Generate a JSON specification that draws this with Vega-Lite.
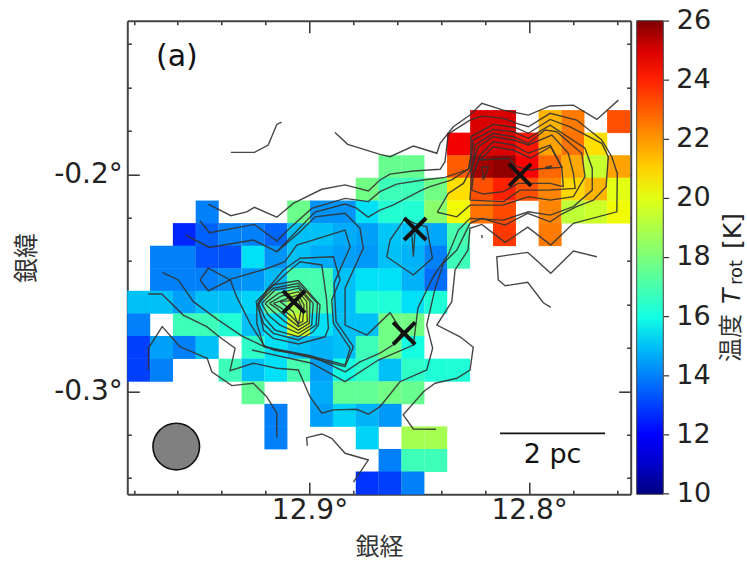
{"$schema":"https://vega.github.io/schema/vega-lite/v6.json","width":503.4,"height":473.6,"autosize":{"type":"none"},"padding":{"left":127.3,"top":20.7,"right":116,"bottom":68},"background":"white",
"config":{"view":{"stroke":null},"font":"DejaVu Sans"},
"datasets":{
"cells":[
{"lon":12.8216,"lat":-0.1757,"T":25},{"lon":12.8112,"lat":-0.1757,"T":25},{"lon":12.7904,"lat":-0.1757,"T":21.5},{"lon":12.78,"lat":-0.1757,"T":22.5},{"lon":12.7592,"lat":-0.1757,"T":23.2},
{"lon":12.8321,"lat":-0.1861,"T":24.7},{"lon":12.8216,"lat":-0.1861,"T":25},{"lon":12.8112,"lat":-0.1861,"T":25},{"lon":12.8008,"lat":-0.1861,"T":24.2},{"lon":12.7904,"lat":-0.1861,"T":21.8},{"lon":12.78,"lat":-0.1861,"T":22.6},{"lon":12.7696,"lat":-0.1861,"T":20.8},
{"lon":12.8633,"lat":-0.1965,"T":17.6},{"lon":12.8529,"lat":-0.1965,"T":17.6},{"lon":12.8321,"lat":-0.1965,"T":23},{"lon":12.8216,"lat":-0.1965,"T":25.6},{"lon":12.8112,"lat":-0.1965,"T":25.8},{"lon":12.8008,"lat":-0.1965,"T":24.6},{"lon":12.7904,"lat":-0.1965,"T":22.8},{"lon":12.78,"lat":-0.1965,"T":21.7},{"lon":12.7696,"lat":-0.1965,"T":19.5},{"lon":12.7592,"lat":-0.1965,"T":21.8},
{"lon":12.8737,"lat":-0.2069,"T":17.8},{"lon":12.8633,"lat":-0.2069,"T":16.8},{"lon":12.8529,"lat":-0.2069,"T":16.8},{"lon":12.8425,"lat":-0.2069,"T":17.8},{"lon":12.8321,"lat":-0.2069,"T":20.8},{"lon":12.8216,"lat":-0.2069,"T":23.2},{"lon":12.8112,"lat":-0.2069,"T":24},{"lon":12.8008,"lat":-0.2069,"T":23.2},{"lon":12.7904,"lat":-0.2069,"T":22.3},{"lon":12.78,"lat":-0.2069,"T":20.9},{"lon":12.7696,"lat":-0.2069,"T":21.5},{"lon":12.7592,"lat":-0.2069,"T":20},
{"lon":12.9466,"lat":-0.2174,"T":14},{"lon":12.9049,"lat":-0.2174,"T":17.7},{"lon":12.8945,"lat":-0.2174,"T":14.3},{"lon":12.8841,"lat":-0.2174,"T":14.3},{"lon":12.8737,"lat":-0.2174,"T":15.5},{"lon":12.8633,"lat":-0.2174,"T":16.3},{"lon":12.8529,"lat":-0.2174,"T":16.3},{"lon":12.8425,"lat":-0.2174,"T":18.3},{"lon":12.8321,"lat":-0.2174,"T":20.3},{"lon":12.8216,"lat":-0.2174,"T":22.6},{"lon":12.8112,"lat":-0.2174,"T":23.3},{"lon":12.7904,"lat":-0.2174,"T":22.3},{"lon":12.78,"lat":-0.2174,"T":19.3},{"lon":12.7696,"lat":-0.2174,"T":19.6},{"lon":12.7592,"lat":-0.2174,"T":20.3},
{"lon":12.957,"lat":-0.2278,"T":12.6},{"lon":12.9466,"lat":-0.2278,"T":13.5},{"lon":12.9362,"lat":-0.2278,"T":14},{"lon":12.9257,"lat":-0.2278,"T":14},{"lon":12.9153,"lat":-0.2278,"T":13.6},{"lon":12.9049,"lat":-0.2278,"T":15},{"lon":12.8945,"lat":-0.2278,"T":15},{"lon":12.8841,"lat":-0.2278,"T":14.7},{"lon":12.8737,"lat":-0.2278,"T":14.5},{"lon":12.8633,"lat":-0.2278,"T":15.1},{"lon":12.8529,"lat":-0.2278,"T":15},{"lon":12.8425,"lat":-0.2278,"T":14.6},{"lon":12.8321,"lat":-0.2278,"T":17},{"lon":12.8112,"lat":-0.2278,"T":23.6},{"lon":12.7904,"lat":-0.2278,"T":22.5},
{"lon":12.9674,"lat":-0.2382,"T":14},{"lon":12.957,"lat":-0.2382,"T":14},{"lon":12.9466,"lat":-0.2382,"T":13.3},{"lon":12.9362,"lat":-0.2382,"T":13.2},{"lon":12.9257,"lat":-0.2382,"T":15.5},{"lon":12.9153,"lat":-0.2382,"T":14.3},{"lon":12.9049,"lat":-0.2382,"T":15},{"lon":12.8945,"lat":-0.2382,"T":14.7},{"lon":12.8841,"lat":-0.2382,"T":14.5},{"lon":12.8737,"lat":-0.2382,"T":14.4},{"lon":12.8633,"lat":-0.2382,"T":15},{"lon":12.8529,"lat":-0.2382,"T":14.8},{"lon":12.8425,"lat":-0.2382,"T":14},{"lon":12.8321,"lat":-0.2382,"T":16.8},
{"lon":12.9674,"lat":-0.2486,"T":14},{"lon":12.957,"lat":-0.2486,"T":14},{"lon":12.9466,"lat":-0.2486,"T":14},{"lon":12.9362,"lat":-0.2486,"T":14.2},{"lon":12.9257,"lat":-0.2486,"T":14.3},{"lon":12.9153,"lat":-0.2486,"T":14.9},{"lon":12.9049,"lat":-0.2486,"T":17},{"lon":12.8945,"lat":-0.2486,"T":17},{"lon":12.8841,"lat":-0.2486,"T":15},{"lon":12.8737,"lat":-0.2486,"T":15.5},{"lon":12.8633,"lat":-0.2486,"T":15.5},{"lon":12.8529,"lat":-0.2486,"T":14.8},{"lon":12.8425,"lat":-0.2486,"T":13.7},
{"lon":12.9778,"lat":-0.259,"T":15},{"lon":12.9674,"lat":-0.259,"T":15},{"lon":12.957,"lat":-0.259,"T":14.5},{"lon":12.9466,"lat":-0.259,"T":15},{"lon":12.9362,"lat":-0.259,"T":15},{"lon":12.9257,"lat":-0.259,"T":15.3},{"lon":12.9153,"lat":-0.259,"T":17.5},{"lon":12.9049,"lat":-0.259,"T":18.8},{"lon":12.8945,"lat":-0.259,"T":17},{"lon":12.8841,"lat":-0.259,"T":15},{"lon":12.8737,"lat":-0.259,"T":16.3},{"lon":12.8633,"lat":-0.259,"T":16.2},{"lon":12.8529,"lat":-0.259,"T":15.5},{"lon":12.8425,"lat":-0.259,"T":16.2},
{"lon":12.9778,"lat":-0.2694,"T":14},{"lon":12.957,"lat":-0.2694,"T":16.8},{"lon":12.9466,"lat":-0.2694,"T":16.8},{"lon":12.9362,"lat":-0.2694,"T":16.3},{"lon":12.9257,"lat":-0.2694,"T":15},{"lon":12.9153,"lat":-0.2694,"T":15.5},{"lon":12.9049,"lat":-0.2694,"T":19.6},{"lon":12.8945,"lat":-0.2694,"T":15.5},{"lon":12.8841,"lat":-0.2694,"T":15},{"lon":12.8737,"lat":-0.2694,"T":15},{"lon":12.8633,"lat":-0.2694,"T":17.8},{"lon":12.8529,"lat":-0.2694,"T":17.8},
{"lon":12.9778,"lat":-0.2798,"T":13},{"lon":12.9674,"lat":-0.2798,"T":14.5},{"lon":12.957,"lat":-0.2798,"T":14},{"lon":12.9466,"lat":-0.2798,"T":15},{"lon":12.9257,"lat":-0.2798,"T":16.5},{"lon":12.9153,"lat":-0.2798,"T":15.5},{"lon":12.9049,"lat":-0.2798,"T":15},{"lon":12.8945,"lat":-0.2798,"T":14.8},{"lon":12.8841,"lat":-0.2798,"T":15},{"lon":12.8737,"lat":-0.2798,"T":16.8},{"lon":12.8633,"lat":-0.2798,"T":17.8},{"lon":12.8529,"lat":-0.2798,"T":16},
{"lon":12.9778,"lat":-0.2903,"T":13},{"lon":12.9674,"lat":-0.2903,"T":14},{"lon":12.9362,"lat":-0.2903,"T":16.8},{"lon":12.9257,"lat":-0.2903,"T":15},{"lon":12.9153,"lat":-0.2903,"T":15.5},{"lon":12.9049,"lat":-0.2903,"T":17},{"lon":12.8945,"lat":-0.2903,"T":14.5},{"lon":12.8841,"lat":-0.2903,"T":16},{"lon":12.8737,"lat":-0.2903,"T":16.5},{"lon":12.8633,"lat":-0.2903,"T":15},{"lon":12.8529,"lat":-0.2903,"T":16.5},{"lon":12.8425,"lat":-0.2903,"T":16.2},{"lon":12.8321,"lat":-0.2903,"T":16.2},
{"lon":12.9257,"lat":-0.3007,"T":17.5},{"lon":12.8945,"lat":-0.3007,"T":14.7},{"lon":12.8841,"lat":-0.3007,"T":17.5},{"lon":12.8737,"lat":-0.3007,"T":17.5},{"lon":12.8633,"lat":-0.3007,"T":17.8},{"lon":12.8529,"lat":-0.3007,"T":17.6},
{"lon":12.9153,"lat":-0.3111,"T":14},{"lon":12.8945,"lat":-0.3111,"T":14.5},{"lon":12.8841,"lat":-0.3111,"T":15.3},{"lon":12.8737,"lat":-0.3111,"T":14.8},{"lon":12.8633,"lat":-0.3111,"T":14.4},
{"lon":12.9153,"lat":-0.3215,"T":14},{"lon":12.8737,"lat":-0.3215,"T":15.3},{"lon":12.8529,"lat":-0.3215,"T":18.8},{"lon":12.8425,"lat":-0.3215,"T":18.8},
{"lon":12.8633,"lat":-0.3319,"T":14},{"lon":12.8529,"lat":-0.3319,"T":16.8},{"lon":12.8425,"lat":-0.3319,"T":16.8},
{"lon":12.8737,"lat":-0.3423,"T":12.8},{"lon":12.8633,"lat":-0.3423,"T":13},{"lon":12.8529,"lat":-0.3423,"T":14}
],
"contours":[
{"c":"a","lon":12.9358,"lat":-0.1899},{"c":"a","lon":12.9251,"lat":-0.1899},{"c":"a","lon":12.9188,"lat":-0.1865},{"c":"a","lon":12.9149,"lat":-0.177},{"c":"a","lon":12.9127,"lat":-0.1759},
{"c":"b","lon":12.8884,"lat":-0.1807},{"c":"b","lon":12.8826,"lat":-0.1862},{"c":"b","lon":12.8679,"lat":-0.1908},{"c":"b","lon":12.8633,"lat":-0.1919},{"c":"b","lon":12.8527,"lat":-0.187},{"c":"b","lon":12.842,"lat":-0.1903},{"c":"b","lon":12.8405,"lat":-0.1857},{"c":"b","lon":12.8345,"lat":-0.1781},{"c":"b","lon":12.8269,"lat":-0.1727},{"c":"b","lon":12.8215,"lat":-0.1673},{"c":"b","lon":12.8117,"lat":-0.1704},{"c":"b","lon":12.8003,"lat":-0.1727},{"c":"b","lon":12.7904,"lat":-0.1685},{"c":"b","lon":12.7798,"lat":-0.1681},{"c":"b","lon":12.7691,"lat":-0.1747},{"c":"b","lon":12.7593,"lat":-0.1658},
{"c":"A","lon":12.9461,"lat":-0.2137},{"c":"A","lon":12.9358,"lat":-0.2191},{"c":"A","lon":12.9286,"lat":-0.2173},{"c":"A","lon":12.9251,"lat":-0.2152},{"c":"A","lon":12.9149,"lat":-0.2198},{"c":"A","lon":12.9074,"lat":-0.2134},{"c":"A","lon":12.8944,"lat":-0.2069},{"c":"A","lon":12.8838,"lat":-0.2049},{"c":"A","lon":12.8732,"lat":-0.2077},{"c":"A","lon":12.8679,"lat":-0.2026},{"c":"A","lon":12.8633,"lat":-0.1999},{"c":"A","lon":12.8527,"lat":-0.1985},{"c":"A","lon":12.8405,"lat":-0.1977},{"c":"A","lon":12.8383,"lat":-0.1942},{"c":"A","lon":12.8368,"lat":-0.1814},{"c":"A","lon":12.8269,"lat":-0.175},{"c":"A","lon":12.8215,"lat":-0.1732},{"c":"A","lon":12.8117,"lat":-0.1742},{"c":"A","lon":12.8056,"lat":-0.1765},{"c":"A","lon":12.8003,"lat":-0.1781},{"c":"A","lon":12.7904,"lat":-0.1719},{"c":"A","lon":12.7783,"lat":-0.175},{"c":"A","lon":12.7669,"lat":-0.1842},{"c":"A","lon":12.7623,"lat":-0.1919},{"c":"A","lon":12.7598,"lat":-0.1996},{"c":"A","lon":12.76,"lat":-0.2173},{"c":"A","lon":12.7798,"lat":-0.2226},{"c":"A","lon":12.7901,"lat":-0.2326},{"c":"A","lon":12.8006,"lat":-0.2244},{"c":"A","lon":12.8109,"lat":-0.2314},{"c":"A","lon":12.8215,"lat":-0.2231},{"c":"A","lon":12.8269,"lat":-0.2249},{"c":"A","lon":12.8278,"lat":-0.2349},{"c":"A","lon":12.8337,"lat":-0.2441},{"c":"A","lon":12.8352,"lat":-0.2587},{"c":"A","lon":12.842,"lat":-0.2695},{"c":"A","lon":12.8314,"lat":-0.2749},{"c":"A","lon":12.8254,"lat":-0.2797},{"c":"A","lon":12.8269,"lat":-0.2902},{"c":"A","lon":12.8329,"lat":-0.294},{"c":"A","lon":12.8428,"lat":-0.2963},{"c":"A","lon":12.8481,"lat":-0.3002},{"c":"A","lon":12.8573,"lat":-0.3109},{"c":"A","lon":12.8527,"lat":-0.3174},{"c":"A","lon":12.8424,"lat":-0.3175},
{"c":"B","lon":12.9499,"lat":-0.2214},{"c":"B","lon":12.9456,"lat":-0.2269},{"c":"B","lon":12.9251,"lat":-0.2231},{"c":"B","lon":12.9149,"lat":-0.2308},{"c":"B","lon":12.9089,"lat":-0.2248},{"c":"B","lon":12.899,"lat":-0.2157},{"c":"B","lon":12.8838,"lat":-0.2111},{"c":"B","lon":12.8732,"lat":-0.2126},{"c":"B","lon":12.8679,"lat":-0.208},{"c":"B","lon":12.8603,"lat":-0.2045},{"c":"B","lon":12.8483,"lat":-0.2026},{"c":"B","lon":12.8383,"lat":-0.2014},{"c":"B","lon":12.8276,"lat":-0.1977},{"c":"B","lon":12.8265,"lat":-0.1911},{"c":"B","lon":12.8265,"lat":-0.1827},{"c":"B","lon":12.8163,"lat":-0.177},{"c":"B","lon":12.8064,"lat":-0.1784},{"c":"B","lon":12.8003,"lat":-0.1811},{"c":"B","lon":12.7904,"lat":-0.1747},{"c":"B","lon":12.7813,"lat":-0.1781},{"c":"B","lon":12.7669,"lat":-0.1857},{"c":"B","lon":12.7639,"lat":-0.1919},{"c":"B","lon":12.7649,"lat":-0.2057},{"c":"B","lon":12.7707,"lat":-0.2119},{"c":"B","lon":12.7783,"lat":-0.2149},{"c":"B","lon":12.7851,"lat":-0.2183},{"c":"B","lon":12.7904,"lat":-0.2219},{"c":"B","lon":12.8006,"lat":-0.218},{"c":"B","lon":12.8109,"lat":-0.2234},{"c":"B","lon":12.8215,"lat":-0.2203},{"c":"B","lon":12.8269,"lat":-0.2226},{"c":"B","lon":12.8329,"lat":-0.2349},{"c":"B","lon":12.839,"lat":-0.241},{"c":"B","lon":12.8428,"lat":-0.2526},{"c":"B","lon":12.8466,"lat":-0.2695},{"c":"B","lon":12.8439,"lat":-0.2802},{"c":"B","lon":12.8466,"lat":-0.2902},{"c":"B","lon":12.8588,"lat":-0.2956},{"c":"B","lon":12.8679,"lat":-0.3071},{"c":"B","lon":12.8732,"lat":-0.3106},{"c":"B","lon":12.8785,"lat":-0.3083},{"c":"B","lon":12.8891,"lat":-0.3086},{"c":"B","lon":12.8944,"lat":-0.3101},{"c":"B","lon":12.8998,"lat":-0.3025},{"c":"B","lon":12.9051,"lat":-0.2902},{"c":"B","lon":12.9149,"lat":-0.2894},{"c":"B","lon":12.9256,"lat":-0.2871},{"c":"B","lon":12.9362,"lat":-0.2905},{"c":"B","lon":12.9339,"lat":-0.2802},{"c":"B","lon":12.9408,"lat":-0.2751},{"c":"B","lon":12.9468,"lat":-0.2702},{"c":"B","lon":12.9575,"lat":-0.2649},{"c":"B","lon":12.9673,"lat":-0.2552},{"c":"B","lon":12.9734,"lat":-0.2552},
{"c":"C","lon":12.9563,"lat":-0.228},{"c":"C","lon":12.9456,"lat":-0.2337},{"c":"C","lon":12.9256,"lat":-0.2303},{"c":"C","lon":12.9149,"lat":-0.2357},{"c":"C","lon":12.9089,"lat":-0.2294},{"c":"C","lon":12.8975,"lat":-0.2174},{"c":"C","lon":12.8838,"lat":-0.2137},{"c":"C","lon":12.8788,"lat":-0.2155},{"c":"C","lon":12.8733,"lat":-0.2197},{"c":"C","lon":12.8679,"lat":-0.2165},{"c":"C","lon":12.862,"lat":-0.2142},{"c":"C","lon":12.8489,"lat":-0.2073},{"c":"C","lon":12.8451,"lat":-0.2057},{"c":"C","lon":12.8352,"lat":-0.2026},{"c":"C","lon":12.8272,"lat":-0.1973},{"c":"C","lon":12.8261,"lat":-0.1903},{"c":"C","lon":12.8254,"lat":-0.1842},{"c":"C","lon":12.8163,"lat":-0.1793},{"c":"C","lon":12.8071,"lat":-0.1804},{"c":"C","lon":12.8003,"lat":-0.1834},{"c":"C","lon":12.7904,"lat":-0.1773},{"c":"C","lon":12.7836,"lat":-0.1819},{"c":"C","lon":12.7745,"lat":-0.188},{"c":"C","lon":12.7712,"lat":-0.1973},{"c":"C","lon":12.7712,"lat":-0.2073},{"c":"C","lon":12.7798,"lat":-0.2149},{"c":"C","lon":12.7904,"lat":-0.2188},{"c":"C","lon":12.8003,"lat":-0.2173},{"c":"C","lon":12.8117,"lat":-0.2211},{"c":"C","lon":12.8269,"lat":-0.2203},{"c":"C","lon":12.8322,"lat":-0.2257},{"c":"C","lon":12.8369,"lat":-0.2372},{"c":"C","lon":12.8437,"lat":-0.2473},{"c":"C","lon":12.8506,"lat":-0.2616},{"c":"C","lon":12.8527,"lat":-0.2787},{"c":"C","lon":12.8686,"lat":-0.2856},{"c":"C","lon":12.8838,"lat":-0.2956},{"c":"C","lon":12.899,"lat":-0.2871},{"c":"C","lon":12.9262,"lat":-0.281},
{"c":"H","lon":12.9149,"lat":-0.2357},{"c":"H","lon":12.9043,"lat":-0.2265},{"c":"H","lon":12.8975,"lat":-0.2196},{"c":"H","lon":12.8838,"lat":-0.218},{"c":"H","lon":12.877,"lat":-0.2249},{"c":"H","lon":12.8755,"lat":-0.2341},{"c":"H","lon":12.8838,"lat":-0.2525},{"c":"H","lon":12.8838,"lat":-0.2695},{"c":"H","lon":12.8739,"lat":-0.2741},{"c":"H","lon":12.8633,"lat":-0.2638},{"c":"H","lon":12.8578,"lat":-0.2727},{"c":"H","lon":12.862,"lat":-0.2787},{"c":"H","lon":12.8679,"lat":-0.2824},{"c":"H","lon":12.877,"lat":-0.2865},{"c":"H","lon":12.8838,"lat":-0.2911},{"c":"H","lon":12.899,"lat":-0.2837},{"c":"H","lon":12.9203,"lat":-0.2796},{"c":"H","lon":12.9309,"lat":-0.2745},{"c":"H","lon":12.9415,"lat":-0.2672},{"c":"H","lon":12.9529,"lat":-0.2587},{"c":"H","lon":12.9598,"lat":-0.2487},{"c":"H","lon":12.9671,"lat":-0.2452},
{"c":"Q","lon":12.9734,"lat":-0.2902},{"c":"Q","lon":12.9734,"lat":-0.2802},{"c":"Q","lon":12.9671,"lat":-0.2702},{"c":"Q","lon":12.959,"lat":-0.2795},{"c":"Q","lon":12.9466,"lat":-0.2848},{"c":"Q","lon":12.9445,"lat":-0.291},{"c":"Q","lon":12.9354,"lat":-0.2974},{"c":"Q","lon":12.9256,"lat":-0.2963},{"c":"Q","lon":12.9195,"lat":-0.3025},{"c":"Q","lon":12.9149,"lat":-0.3101},{"c":"Q","lon":12.9149,"lat":-0.3214},
{"c":"R","lon":12.901,"lat":-0.3251},{"c":"R","lon":12.9013,"lat":-0.3214},{"c":"R","lon":12.8944,"lat":-0.3197},{"c":"R","lon":12.8899,"lat":-0.3217},{"c":"R","lon":12.8838,"lat":-0.3286},{"c":"R","lon":12.8732,"lat":-0.3317},{"c":"R","lon":12.88,"lat":-0.3419},
{"c":"S","lon":12.7691,"lat":-0.238},{"c":"S","lon":12.7798,"lat":-0.2354},{"c":"S","lon":12.7901,"lat":-0.2456},{"c":"S","lon":12.8006,"lat":-0.236},{"c":"S","lon":12.8147,"lat":-0.238},{"c":"S","lon":12.814,"lat":-0.2487},{"c":"S","lon":12.8109,"lat":-0.2514},{"c":"S","lon":12.8006,"lat":-0.2498},{"c":"S","lon":12.7935,"lat":-0.2592},{"c":"S","lon":12.7901,"lat":-0.2613},
{"c":"D","lon":12.9499,"lat":-0.2487},{"c":"D","lon":12.9461,"lat":-0.2433},{"c":"D","lon":12.9362,"lat":-0.2487},{"c":"D","lon":12.9461,"lat":-0.2537},{"c":"D","lon":12.9499,"lat":-0.2487},
{"c":"F","lon":12.9362,"lat":-0.2484},{"c":"F","lon":12.9188,"lat":-0.2433},{"c":"F","lon":12.9112,"lat":-0.2403},{"c":"F","lon":12.9058,"lat":-0.2326},{"c":"F","lon":12.8838,"lat":-0.2257},{"c":"F","lon":12.8815,"lat":-0.2334},{"c":"F","lon":12.8888,"lat":-0.2502},{"c":"F","lon":12.8879,"lat":-0.2679},{"c":"F","lon":12.88,"lat":-0.2795},{"c":"F","lon":12.8838,"lat":-0.2887},{"c":"F","lon":12.8983,"lat":-0.2848},{"c":"F","lon":12.9203,"lat":-0.2795},{"c":"F","lon":12.9271,"lat":-0.2687},{"c":"F","lon":12.9332,"lat":-0.2564},{"c":"F","lon":12.9362,"lat":-0.2484},
{"c":"G1","lon":12.924,"lat":-0.2602},{"c":"G1","lon":12.9195,"lat":-0.2533},{"c":"G1","lon":12.9119,"lat":-0.2441},{"c":"G1","lon":12.9043,"lat":-0.2387},{"c":"G1","lon":12.8891,"lat":-0.238},{"c":"G1","lon":12.8861,"lat":-0.2487},{"c":"G1","lon":12.8899,"lat":-0.2579},{"c":"G1","lon":12.8891,"lat":-0.2687},{"c":"G1","lon":12.8815,"lat":-0.2802},{"c":"G1","lon":12.8838,"lat":-0.2879},{"c":"G1","lon":12.8983,"lat":-0.2841},{"c":"G1","lon":12.9165,"lat":-0.281},{"c":"G1","lon":12.921,"lat":-0.2787},{"c":"G1","lon":12.924,"lat":-0.2687},{"c":"G1","lon":12.924,"lat":-0.2602},
{"c":"G2","lon":12.9233,"lat":-0.2602},{"c":"G2","lon":12.9188,"lat":-0.2533},{"c":"G2","lon":12.9097,"lat":-0.2449},{"c":"G2","lon":12.9043,"lat":-0.2403},{"c":"G2","lon":12.8944,"lat":-0.2418},{"c":"G2","lon":12.8922,"lat":-0.2579},{"c":"G2","lon":12.8914,"lat":-0.271},{"c":"G2","lon":12.8929,"lat":-0.2749},{"c":"G2","lon":12.9051,"lat":-0.2782},{"c":"G2","lon":12.9165,"lat":-0.2756},{"c":"G2","lon":12.921,"lat":-0.2718},{"c":"G2","lon":12.9233,"lat":-0.2602},
{"c":"G3","lon":12.9244,"lat":-0.2587},{"c":"G3","lon":12.9165,"lat":-0.251},{"c":"G3","lon":12.9051,"lat":-0.249},{"c":"G3","lon":12.8952,"lat":-0.2602},{"c":"G3","lon":12.896,"lat":-0.2695},{"c":"G3","lon":12.8983,"lat":-0.2726},{"c":"G3","lon":12.9051,"lat":-0.2764},{"c":"G3","lon":12.9165,"lat":-0.2733},{"c":"G3","lon":12.921,"lat":-0.2687},{"c":"G3","lon":12.9244,"lat":-0.2587},
{"c":"G4","lon":12.9233,"lat":-0.2595},{"c":"G4","lon":12.9165,"lat":-0.2525},{"c":"G4","lon":12.9051,"lat":-0.2502},{"c":"G4","lon":12.8964,"lat":-0.2595},{"c":"G4","lon":12.897,"lat":-0.2695},{"c":"G4","lon":12.9051,"lat":-0.2749},{"c":"G4","lon":12.9157,"lat":-0.2718},{"c":"G4","lon":12.9203,"lat":-0.2664},{"c":"G4","lon":12.9233,"lat":-0.2595},
{"c":"G5","lon":12.9218,"lat":-0.2595},{"c":"G5","lon":12.9157,"lat":-0.2533},{"c":"G5","lon":12.9051,"lat":-0.2515},{"c":"G5","lon":12.8983,"lat":-0.2595},{"c":"G5","lon":12.899,"lat":-0.2695},{"c":"G5","lon":12.9051,"lat":-0.2733},{"c":"G5","lon":12.9134,"lat":-0.2695},{"c":"G5","lon":12.9188,"lat":-0.2649},{"c":"G5","lon":12.9218,"lat":-0.2595},
{"c":"G6","lon":12.9203,"lat":-0.2595},{"c":"G6","lon":12.9142,"lat":-0.2549},{"c":"G6","lon":12.9051,"lat":-0.2525},{"c":"G6","lon":12.8998,"lat":-0.2587},{"c":"G6","lon":12.9001,"lat":-0.2687},{"c":"G6","lon":12.9051,"lat":-0.2718},{"c":"G6","lon":12.9112,"lat":-0.2679},{"c":"G6","lon":12.9165,"lat":-0.2633},{"c":"G6","lon":12.9203,"lat":-0.2595},
{"c":"G7","lon":12.9183,"lat":-0.2595},{"c":"G7","lon":12.9127,"lat":-0.2561},{"c":"G7","lon":12.9051,"lat":-0.2541},{"c":"G7","lon":12.9013,"lat":-0.2587},{"c":"G7","lon":12.901,"lat":-0.2679},{"c":"G7","lon":12.9051,"lat":-0.2702},{"c":"G7","lon":12.9097,"lat":-0.2664},{"c":"G7","lon":12.9149,"lat":-0.2618},{"c":"G7","lon":12.9183,"lat":-0.2595},
{"c":"G8","lon":12.9165,"lat":-0.2595},{"c":"G8","lon":12.9119,"lat":-0.2579},{"c":"G8","lon":12.9051,"lat":-0.2556},{"c":"G8","lon":12.9025,"lat":-0.2602},{"c":"G8","lon":12.9031,"lat":-0.2679},{"c":"G8","lon":12.9051,"lat":-0.2687},{"c":"G8","lon":12.9089,"lat":-0.2649},{"c":"G8","lon":12.9127,"lat":-0.2618},{"c":"G8","lon":12.9165,"lat":-0.2595},
{"c":"G9","lon":12.9134,"lat":-0.2587},{"c":"G9","lon":12.9051,"lat":-0.2579},{"c":"G9","lon":12.9036,"lat":-0.261},{"c":"G9","lon":12.9051,"lat":-0.2695},{"c":"G9","lon":12.9074,"lat":-0.2633},{"c":"G9","lon":12.9134,"lat":-0.2587},
{"c":"L","lon":12.8565,"lat":-0.2203},{"c":"L","lon":12.8633,"lat":-0.2303},{"c":"L","lon":12.8648,"lat":-0.238},{"c":"L","lon":12.8527,"lat":-0.2464},{"c":"L","lon":12.844,"lat":-0.2387},{"c":"L","lon":12.8466,"lat":-0.2242},{"c":"L","lon":12.852,"lat":-0.2226},{"c":"L","lon":12.8565,"lat":-0.2203},
{"c":"L2","lon":12.8534,"lat":-0.2272},{"c":"L2","lon":12.8527,"lat":-0.238},{"c":"L2","lon":12.852,"lat":-0.2272},
{"c":"N4","lon":12.8418,"lat":-0.2175},{"c":"N4","lon":12.8329,"lat":-0.2196},{"c":"N4","lon":12.8269,"lat":-0.2142},{"c":"N4","lon":12.8117,"lat":-0.2142},{"c":"N4","lon":12.8003,"lat":-0.2103},{"c":"N4","lon":12.7904,"lat":-0.2119},{"c":"N4","lon":12.7798,"lat":-0.2103},{"c":"N4","lon":12.7745,"lat":-0.2011},{"c":"N4","lon":12.776,"lat":-0.1903},{"c":"N4","lon":12.7874,"lat":-0.1804},{"c":"N4","lon":12.7927,"lat":-0.1796},{"c":"N4","lon":12.8003,"lat":-0.1857},{"c":"N4","lon":12.8071,"lat":-0.1827},{"c":"N4","lon":12.8163,"lat":-0.1811},{"c":"N4","lon":12.8246,"lat":-0.1865},{"c":"N4","lon":12.8256,"lat":-0.1957},{"c":"N4","lon":12.8299,"lat":-0.2042},{"c":"N4","lon":12.8368,"lat":-0.2088},{"c":"N4","lon":12.8418,"lat":-0.2175},
{"c":"N5","lon":12.8269,"lat":-0.2119},{"c":"N5","lon":12.8117,"lat":-0.2126},{"c":"N5","lon":12.8041,"lat":-0.2073},{"c":"N5","lon":12.7912,"lat":-0.2073},{"c":"N5","lon":12.779,"lat":-0.2065},{"c":"N5","lon":12.7798,"lat":-0.1996},{"c":"N5","lon":12.7821,"lat":-0.1903},{"c":"N5","lon":12.7896,"lat":-0.1819},{"c":"N5","lon":12.8003,"lat":-0.1865},{"c":"N5","lon":12.8071,"lat":-0.1842},{"c":"N5","lon":12.8163,"lat":-0.1827},{"c":"N5","lon":12.8231,"lat":-0.1873},{"c":"N5","lon":12.8261,"lat":-0.1965},{"c":"N5","lon":12.8265,"lat":-0.2057},{"c":"N5","lon":12.8269,"lat":-0.2119},
{"c":"N6","lon":12.8261,"lat":-0.2073},{"c":"N6","lon":12.8208,"lat":-0.2091},{"c":"N6","lon":12.8117,"lat":-0.208},{"c":"N6","lon":12.8049,"lat":-0.2042},{"c":"N6","lon":12.7904,"lat":-0.2042},{"c":"N6","lon":12.7844,"lat":-0.2057},{"c":"N6","lon":12.7851,"lat":-0.1965},{"c":"N6","lon":12.7904,"lat":-0.1865},{"c":"N6","lon":12.8003,"lat":-0.1903},{"c":"N6","lon":12.8071,"lat":-0.1865},{"c":"N6","lon":12.8163,"lat":-0.185},{"c":"N6","lon":12.8223,"lat":-0.1911},{"c":"N6","lon":12.8254,"lat":-0.2003},{"c":"N6","lon":12.8261,"lat":-0.2073},
{"c":"N7","lon":12.8223,"lat":-0.1934},{"c":"N7","lon":12.8094,"lat":-0.1926},{"c":"N7","lon":12.8056,"lat":-0.1965},{"c":"N7","lon":12.7995,"lat":-0.198},{"c":"N7","lon":12.7935,"lat":-0.1973},{"c":"N7","lon":12.7851,"lat":-0.1968},{"c":"N7","lon":12.7901,"lat":-0.1873},{"c":"N7","lon":12.7995,"lat":-0.1926},{"c":"N7","lon":12.8071,"lat":-0.1888},{"c":"N7","lon":12.8163,"lat":-0.1873},{"c":"N7","lon":12.8223,"lat":-0.1934},
{"c":"T1","lon":12.8215,"lat":-0.1965},{"c":"T1","lon":12.8185,"lat":-0.1968},{"c":"T1","lon":12.8208,"lat":-0.2026},{"c":"T1","lon":12.8215,"lat":-0.1965},
{"c":"T2","lon":12.7927,"lat":-0.1968},{"c":"T2","lon":12.7896,"lat":-0.1962},{"c":"T2","lon":12.7912,"lat":-0.1974},{"c":"T2","lon":12.7927,"lat":-0.1968},
{"c":"T3","lon":12.8215,"lat":-0.228},{"c":"T3","lon":12.8214,"lat":-0.2294}
],
"crosses":[{"lon":12.9071,"lat":-0.2588},{"lon":12.8519,"lat":-0.2252},{"lon":12.8569,"lat":-0.2733},{"lon":12.8041,"lat":-0.2003}],
"cbarticks":[{"x1":12.7387,"x2":12.7362,"lat":-0.1294},{"x1":12.7387,"x2":12.7362,"lat":-0.1566},{"x1":12.7387,"x2":12.7362,"lat":-0.1839},{"x1":12.7387,"x2":12.7362,"lat":-0.2111},{"x1":12.7387,"x2":12.7362,"lat":-0.2384},{"x1":12.7387,"x2":12.7362,"lat":-0.2656},{"x1":12.7387,"x2":12.7362,"lat":-0.2929},{"x1":12.7387,"x2":12.7362,"lat":-0.3201},{"x1":12.7387,"x2":12.7362,"lat":-0.3473}]
},
"layer":[
{"data":{"name":"cells"},"mark":{"type":"rect","width":23,"height":23},
"encoding":{
"x":{"field":"lon","type":"quantitative","scale":{"domain":[12.983,12.7537],"nice":false,"zero":false},
"axis":{"orient":"bottom","values":[12.98,12.96,12.94,12.92,12.9,12.88,12.86,12.84,12.82,12.8,12.78,12.76],"grid":false,"domainColor":"#444","domainWidth":2,"tickColor":"#333","tickWidth":1.5,
"tickSize":{"condition":{"test":"abs(datum.value-12.9)<0.001||abs(datum.value-12.8)<0.001","value":-12},"value":-4},
"labelExpr":"abs(datum.value-12.9)<0.001||abs(datum.value-12.8)<0.001?format(datum.value,'.1f')+'°':''","labelFont":"DejaVu Sans","labelFontSize":28,"labelColor":"#222","labelPadding":14,"labelOverlap":false,"labelFlush":false,
"title":"銀経","titleFont":"Noto Sans CJK JP","titleFontWeight":"normal","titleFontSize":24,"titleColor":"#333","titlePadding":3}},
"y":{"field":"lat","type":"quantitative","scale":{"domain":[-0.3475,-0.1292],"nice":false,"zero":false},
"axis":{"orient":"left","values":[-0.14,-0.16,-0.18,-0.2,-0.22,-0.24,-0.26,-0.28,-0.3,-0.32,-0.34],"grid":false,"domainColor":"#444","domainWidth":2,"tickColor":"#333","tickWidth":1.5,
"tickSize":{"condition":{"test":"abs(datum.value+0.2)<0.001||abs(datum.value+0.3)<0.001","value":-12},"value":-4},
"labelExpr":"abs(datum.value+0.2)<0.001||abs(datum.value+0.3)<0.001?'-'+format(abs(datum.value),'.1f')+'°':''","labelFont":"DejaVu Sans","labelFontSize":28,"labelColor":"#222","labelPadding":17,"labelOverlap":false,"labelFlush":false,
"title":"銀緯","titleFont":"Noto Sans CJK JP","titleFontWeight":"normal","titleFontSize":25,"titleColor":"#333","titlePadding":14}},
"color":{"field":"T","type":"quantitative","scale":{"domain":[10,11.76,12,15.6,16,20.24,20.56,24.24,24.56,26],"range":["#00007f","#0000ff","#0000ff","#00e6f7","#14ffe2","#eeff08","#ffec00","#ff1300","#ff0000","#7f0000"],"interpolate":"rgb"},
"legend":{"orient":"none","legendX":509.4,"legendY":0,"title":null,"type":"gradient","gradientLength":473.6,"gradientThickness":26.6,"gradientStrokeColor":"#444","gradientStrokeWidth":1,"values":[12,14,16,18,20,22,24],"labelFont":"DejaVu Sans","labelFontSize":27,"labelColor":"#222","labelOffset":13,"labelOverlap":false}}
}},
{"data":{"name":"contours"},"mark":{"type":"line","stroke":"#333","strokeWidth":1.4,"opacity":0.9,"clip":true},
"encoding":{
"x":{"field":"lon","type":"quantitative","axis":{"orient":"top","values":[12.98,12.96,12.94,12.92,12.9,12.88,12.86,12.84,12.82,12.8,12.78,12.76],"grid":false,"labels":false,"title":null,"domainColor":"#444","domainWidth":2,"tickColor":"#333","tickWidth":1.5,
"tickSize":{"condition":{"test":"abs(datum.value-12.9)<0.001||abs(datum.value-12.8)<0.001","value":-12},"value":-4}}},
"y":{"field":"lat","type":"quantitative","axis":{"orient":"right","values":[-0.14,-0.16,-0.18,-0.2,-0.22,-0.24,-0.26,-0.28,-0.3,-0.32,-0.34],"grid":false,"labels":false,"title":null,"domainColor":"#444","domainWidth":2,"tickColor":"#333","tickWidth":1.5,
"tickSize":{"condition":{"test":"abs(datum.value+0.2)<0.001||abs(datum.value+0.3)<0.001","value":-12},"value":-4}}},
"detail":{"field":"c","type":"nominal"},"order":{"value":null}}},
{"data":{"name":"crosses"},"mark":{"type":"point","shape":"M-1,-1L1,1M-1,1L1,-1","size":484,"filled":false,"stroke":"#111","strokeWidth":4,"opacity":1},
"encoding":{"x":{"field":"lon","type":"quantitative","axis":null},"y":{"field":"lat","type":"quantitative","axis":null}}},
{"data":{"values":[{"lon":12.9607,"lat":-0.3255}]},"mark":{"type":"point","shape":"circle","size":2172,"filled":true,"fill":"#808080","stroke":"#111","strokeWidth":1.6,"opacity":1},
"encoding":{"x":{"field":"lon","type":"quantitative","axis":null},"y":{"field":"lat","type":"quantitative","axis":null}}},
{"data":{"values":[{"lon":12.9604,"lat":-0.1459,"label":"(a)"}]},"mark":{"type":"text","font":"DejaVu Sans","fontSize":30,"color":"#111","align":"center","baseline":"middle"},
"encoding":{"x":{"field":"lon","type":"quantitative","axis":null},"y":{"field":"lat","type":"quantitative","axis":null},"text":{"field":"label"}}},
{"data":{"values":[{"lon":12.8132,"lon2":12.7654,"lat":-0.3194}]},"mark":{"type":"rule","stroke":"#111","strokeWidth":1.6},
"encoding":{"x":{"field":"lon","type":"quantitative","axis":null},"x2":{"field":"lon2"},"y":{"field":"lat","type":"quantitative","axis":null}}},
{"data":{"values":[{"lon":12.7893,"lat":-0.3332,"label":"2 pc"}]},"mark":{"type":"text","font":"DejaVu Sans","fontSize":27,"color":"#111","align":"center","baseline":"alphabetic"},
"encoding":{"x":{"field":"lon","type":"quantitative","axis":null},"y":{"field":"lat","type":"quantitative","axis":null},"text":{"field":"label"}}},
{"data":{"name":"cbarticks"},"mark":{"type":"rule","stroke":"#333","strokeWidth":1.2},
"encoding":{"x":{"field":"x1","type":"quantitative","axis":null},"x2":{"field":"x2"},"y":{"field":"lat","type":"quantitative","axis":null}}},
{"data":{"values":[{"lon":12.7327,"lat":-0.1294,"label":"26"},{"lon":12.7327,"lat":-0.3473,"label":"10"}]},"mark":{"type":"text","font":"DejaVu Sans","fontSize":27,"color":"#222","align":"left","baseline":"middle"},
"encoding":{"x":{"field":"lon","type":"quantitative","axis":null},"y":{"field":"lat","type":"quantitative","axis":null},"text":{"field":"label"}}},
{"data":{"values":[{"lon":12.7043,"lat":-0.2865,"label":"温度"}]},"mark":{"type":"text","font":"Noto Sans CJK JP","fontSize":24,"color":"#333","angle":270,"align":"left","baseline":"alphabetic"},
"encoding":{"x":{"field":"lon","type":"quantitative","axis":null},"y":{"field":"lat","type":"quantitative","axis":null},"text":{"field":"label"}}},
{"data":{"values":[{"lon":12.7039,"lat":-0.2598,"label":"T"}]},"mark":{"type":"text","font":"DejaVu Sans","fontStyle":"italic","fontSize":25,"color":"#222","angle":270,"align":"left","baseline":"alphabetic"},
"encoding":{"x":{"field":"lon","type":"quantitative","axis":null},"y":{"field":"lat","type":"quantitative","axis":null},"text":{"field":"label"}}},
{"data":{"values":[{"lon":12.7029,"lat":-0.251,"label":"rot"}]},"mark":{"type":"text","font":"DejaVu Sans","fontSize":18,"color":"#222","angle":270,"align":"left","baseline":"alphabetic"},
"encoding":{"x":{"field":"lon","type":"quantitative","axis":null},"y":{"field":"lat","type":"quantitative","axis":null},"text":{"field":"label"}}},
{"data":{"values":[{"lon":12.7034,"lat":-0.2344,"label":"[K]"}]},"mark":{"type":"text","font":"DejaVu Sans","fontSize":25,"color":"#222","angle":270,"align":"left","baseline":"alphabetic"},
"encoding":{"x":{"field":"lon","type":"quantitative","axis":null},"y":{"field":"lat","type":"quantitative","axis":null},"text":{"field":"label"}}}
],
"resolve":{"axis":{"x":"independent","y":"independent"}}}
